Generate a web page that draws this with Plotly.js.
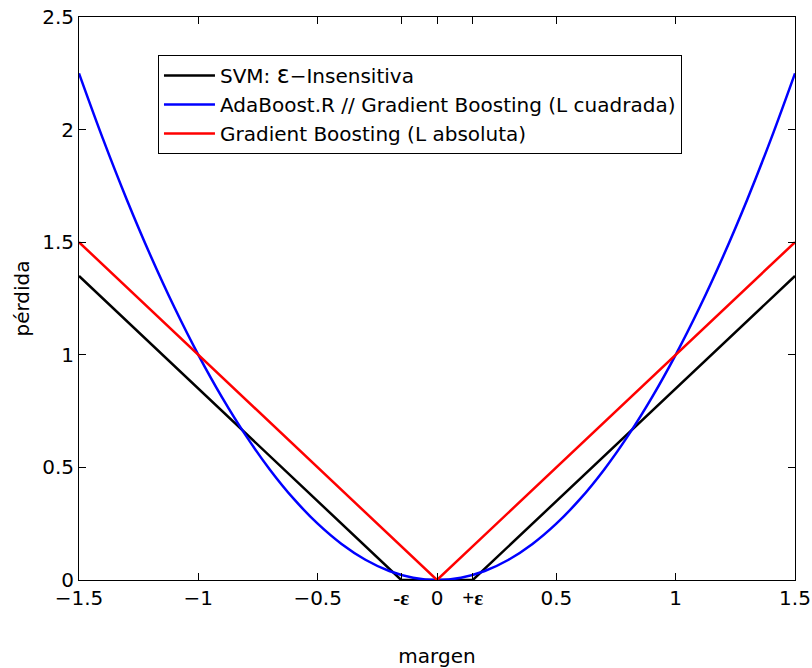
<!DOCTYPE html>
<html>
<head>
<meta charset="utf-8">
<script src="https://cdn.plot.ly/plotly-3.0.1.min.js"></script>
<style>html,body{margin:0;padding:0;background:#fff;}</style>
</head>
<body>
<div id="chart" style="width:812px;height:668px;"></div>
<script>
// SVM epsilon-insensitive loss
const svmX = [-1.5, -0.15, 0.15, 1.5];
const svmY = [1.35, 0, 0, 1.35];
// AdaBoost.R // Gradient Boosting (squared loss)
const sqX = [-1.5, -1.4, -1.3, -1.2, -1.1, -1.0, -0.9, -0.8, -0.7, -0.6, -0.5, -0.4, -0.3, -0.2, -0.1, 0,
             0.1, 0.2, 0.3, 0.4, 0.5, 0.6, 0.7, 0.8, 0.9, 1.0, 1.1, 1.2, 1.3, 1.4, 1.5];
const sqY = [2.25, 1.96, 1.69, 1.44, 1.21, 1.0, 0.81, 0.64, 0.49, 0.36, 0.25, 0.16, 0.09, 0.04, 0.01, 0,
             0.01, 0.04, 0.09, 0.16, 0.25, 0.36, 0.49, 0.64, 0.81, 1.0, 1.21, 1.44, 1.69, 1.96, 2.25];
// Gradient Boosting (absolute loss)
const absX = [-1.5, 0, 1.5];
const absY = [1.5, 0, 1.5];

const seriesNames = ['SVM: <span style="font-size:24px">ε</span>−Insensitiva',
                     'AdaBoost.R // Gradient Boosting (L cuadrada)',
                     'Gradient Boosting (L absoluta)'];
const xTickVals = [-1.5, -1, -0.5, -0.15, 0, 0.15, 0.5, 1, 1.5];
const epsStyle = 'font-family:Liberation Serif;font-weight:bold;font-size:21px';
const xTickText = ['−1.5', '−1', '−0.5', '<span style="' + epsStyle + '">-ε</span>', '0',
                   '<span style="' + epsStyle + '">+ε</span>', '0.5', '1', '1.5'];
const yTickVals = [0, 0.5, 1, 1.5, 2, 2.5];
const yTickText = ['0', '0.5', '1', '1.5', '2', '2.5'];

const FONT = 'DejaVu Sans, Liberation Sans, Arial, sans-serif';

const traces = [
  {x: svmX, y: svmY, name: seriesNames[0], mode: 'lines', line: {color: '#000000', width: 2.5}},
  {x: sqX, y: sqY, name: seriesNames[1], mode: 'lines', line: {color: '#0000ff', width: 2.5, shape: 'spline'}},
  {x: absX, y: absY, name: seriesNames[2], mode: 'lines', line: {color: '#ff0000', width: 2.5}}
];

const axisCommon = {
  showline: true, linecolor: '#000', linewidth: 1, mirror: 'ticks',
  ticks: 'inside', ticklen: 7, tickcolor: '#000', tickwidth: 1,
  showgrid: false, zeroline: false,
  tickfont: {family: FONT, size: 20, color: '#000'}
};

const layout = {
  width: 812, height: 668,
  margin: {l: 79, r: 17, t: 17, b: 88},
  paper_bgcolor: '#fff', plot_bgcolor: '#fff',
  font: {family: FONT, color: '#000'},
  showlegend: true,
  legend: {
    x: 0.1103, y: 0.9325, xanchor: 'left', yanchor: 'top',
    bgcolor: '#fff', bordercolor: '#000', borderwidth: 1,
    font: {family: FONT, size: 20, color: '#000'},
    tracegroupgap: 0, itemwidth: 51
  },
  xaxis: Object.assign({}, axisCommon, {
    range: [-1.5, 1.5], tickmode: 'array', tickvals: xTickVals, ticktext: xTickText,
    title: {text: 'margen', font: {family: FONT, size: 20, color: '#000'}, standoff: 39}
  }),
  yaxis: Object.assign({}, axisCommon, {
    range: [0, 2.5], tickmode: 'array', tickvals: yTickVals, ticktext: yTickText,
    title: {text: 'pérdida', font: {family: FONT, size: 20, color: '#000'}, standoff: 7}
  })
};

Plotly.newPlot('chart', traces, layout, {displayModeBar: false, staticPlot: true});
</script>
</body>
</html>
